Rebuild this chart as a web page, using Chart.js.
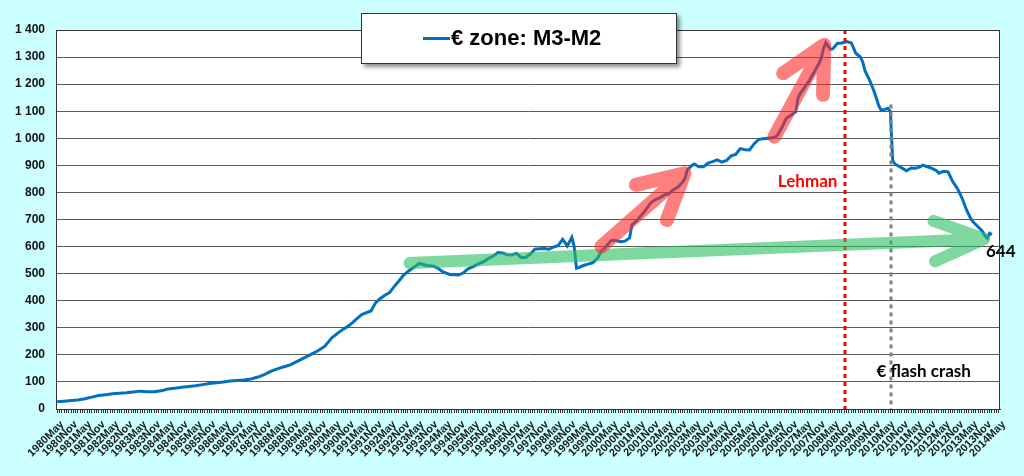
<!DOCTYPE html>
<html><head><meta charset="utf-8">
<script src="https://cdn.jsdelivr.net/npm/chart.js@4.4.1/dist/chart.umd.min.js"></script>
<style>html,body{margin:0;padding:0;background:#CCFFFF;overflow:hidden}canvas{display:block}</style>
</head><body>
<canvas id="c" width="1024" height="476"></canvas>
<script>
// Category tick labels (every 6 months)
const tickLabels = [
 "1980May","1980Nov","1981May","1981Nov","1982May","1982Nov","1983May","1983Nov","1984May","1984Nov",
 "1985May","1985Nov","1986May","1986Nov","1987May","1987Nov","1988May","1988Nov","1989May","1989Nov",
 "1990May","1990Nov","1991May","1991Nov","1992May","1992Nov","1993May","1993Nov","1994May","1994Nov",
 "1995May","1995Nov","1996May","1996Nov","1997May","1997Nov","1998May","1998Nov","1999May","1999Nov",
 "2000May","2000Nov","2001May","2001Nov","2002May","2002Nov","2003May","2003Nov","2004May","2004Nov",
 "2005May","2005Nov","2006May","2006Nov","2007May","2007Nov","2008May","2008Nov","2009May","2009Nov",
 "2010May","2010Nov","2011May","2011Nov","2012May","2012Nov","2013May","2013Nov","2014May"
];
const monthsPerTick = 6;
const monthCount = 409; // 1980May .. 2014May

// Month index (0 = 1980May) of each read value
const monthIndex = [
 0,3,6,9,12,15,18,21,24,27,30,33,36,39,42,45,48,51,54,57,60,63,66,69,72,75,78,81,84,87,
 90,93,96,99,101,104,107,110,113,116,119,122,124,126,128,130,132,134,136,138,140,142,144,146,148,150,152,154,156,
 157,160,163,165,167,170,172,174,176,178,180,183,185,187,189,191,193,195,197,199,201,203,205,207,209,211,213,215,217,219,220,221,223,224,
 225,226,228,230,232,234,236,238,240,242,244,246,248,249,251,253,255,257,259,261,263,265,267,269,271,272,273,275,276,278,280,282,284,286,288,290,
 292,294,296,298,300,302,304,306,308,310,312,314,316,318,320,321,322,324,326,328,330,331,332,333,335,336,338,340,342,344,345,346,348,349,350,352,354,356,357,358,360,361,
 362,363,365,367,368,370,372,374,375,377,379,381,382,384,386,388,390,392,394,396,397,399,401,402,403,404,405
];
// € zone M3-M2 values (bn €)
const m3m2 = [
 27,29,31,33,38,44,50,53,56,58,60,63,66,64,64,67,74,77,80,83,86,90,94,97,100,103,105,107,111,118,
 128,141,150,158,163,176,189,202,215,232,263,283,295,306,319,335,349,356,362,393,408,420,430,452,472,494,508,520,532,
 538,530,528,520,507,497,496,495,503,518,525,538,545,557,565,578,576,570,569,575,560,560,572,590,592,593,590,598,603,627,615,602,634,600,
 520,522,530,535,540,556,585,602,622,622,618,620,632,680,695,715,735,760,773,780,790,795,810,820,838,850,883,900,905,895,895,908,914,920,912,918,
 935,940,962,958,957,980,996,998,1000,1002,1010,1040,1075,1085,1098,1150,1166,1190,1215,1245,1275,1295,1330,1353,1329,1330,1350,1352,1357,1353,1335,1314,1300,1283,1250,1215,1172,1120,1104,1105,1111,1098,
 918,905,895,885,880,890,889,895,901,895,889,880,871,878,876,840,815,780,735,700,690,673,655,640,631,649,644
];
const seriesName = "€ zone: M3-M2";
// Annotation events (month index / value)
const lehmanMonth = 341.5, lehmanLabel = "Lehman";
const flashMonth = 361.1, flashTopValue = 1125, flashLabel = "€ flash crash";
const lastLabel = "644";
const greenArrow = [152.7, 539, 401.7, 628];
const redArrow1 = [235.8, 600, 271.8, 871];
const redArrow2 = [310.8, 1006, 332.4, 1345];

const points = monthIndex.map((m, i) => ({x: m, y: m3m2[i]}));

const fmt = v => String(v).replace(/\B(?=(\d{3})+(?!\d))/g, ' ');

const bgPlugin = {
  id: 'bg',
  beforeDraw(chart) {
    const {ctx, chartArea: a} = chart;
    ctx.save();
    ctx.fillStyle = '#FFFFFF';
    ctx.fillRect(a.left, a.top, a.right - a.left, a.bottom - a.top);
    ctx.restore();
  },
  afterDraw(chart) {
    const {ctx, chartArea: a} = chart;
    ctx.save();
    ctx.strokeStyle = '#333';
    ctx.lineWidth = 1;
    ctx.strokeRect(a.left + 0.5, a.top + 0.5, a.right - a.left - 1, a.bottom - a.top);
    ctx.restore();
  }
};

function drawArrow(ctx, x0, y0, x1, y1, color, w, headLen, headDeg) {
  const ang = Math.atan2(y0 - y1, x0 - x1);
  const h = headDeg * Math.PI / 180;
  ctx.save();
  ctx.strokeStyle = color;
  ctx.lineWidth = w;
  ctx.lineCap = 'round';
  ctx.lineJoin = 'round';
  ctx.beginPath();
  ctx.moveTo(x0, y0); ctx.lineTo(x1, y1);
  ctx.moveTo(x1 + headLen * Math.cos(ang + h), y1 + headLen * Math.sin(ang + h));
  ctx.lineTo(x1, y1);
  ctx.lineTo(x1 + headLen * Math.cos(ang - h), y1 + headLen * Math.sin(ang - h));
  ctx.stroke();
  ctx.restore();
}

const annoPlugin = {
  id: 'anno',
  afterDatasetsDraw(chart) {
    const {ctx, chartArea: a, scales: {x, y}} = chart;
    const px = v => x.getPixelForValue(v), py = v => y.getPixelForValue(v);
    // dotted lines
    ctx.save();
    ctx.setLineDash([4, 4]);
    ctx.lineWidth = 3;
    ctx.strokeStyle = '#FF0000';
    ctx.beginPath(); ctx.moveTo(Math.round(px(lehmanMonth)), a.top); ctx.lineTo(Math.round(px(lehmanMonth)), a.bottom); ctx.stroke();
    ctx.strokeStyle = '#808080';
    ctx.beginPath(); ctx.moveTo(Math.round(px(flashMonth)), py(flashTopValue)); ctx.lineTo(Math.round(px(flashMonth)), a.bottom); ctx.stroke();
    ctx.restore();
    // arrows
    drawArrow(ctx, px(greenArrow[0]), py(greenArrow[1]), px(greenArrow[2]), py(greenArrow[3]), 'rgba(42,190,97,0.6)', 12, 54, 22);
    drawArrow(ctx, px(redArrow1[0]), py(redArrow1[1]), px(redArrow1[2]), py(redArrow1[3]), 'rgba(255,42,42,0.6)', 14, 50, 28);
    drawArrow(ctx, px(redArrow2[0]), py(redArrow2[1]), px(redArrow2[2]), py(redArrow2[3]), 'rgba(255,42,42,0.6)', 14, 50, 27);
    // texts
    ctx.save();
    ctx.font = 'bold 17px Lato, "Open Sans", sans-serif';
    ctx.textBaseline = 'middle';
    ctx.fillStyle = '#FF0000';
    ctx.textAlign = 'right';
    ctx.fillText(lehmanLabel, px(lehmanMonth) - 8, py(842));
    ctx.fillStyle = '#000';
    ctx.textAlign = 'left';
    ctx.fillText(flashLabel, px(flashMonth) - 14, py(137));
    const li = monthIndex.length - 1;
    ctx.fillText(lastLabel, px(monthIndex[li]) - 6, py(m3m2[li]) + 17);
    ctx.restore();
  },
  afterDraw(chart) {
    const ctx = chart.ctx;
    ctx.save();
    ctx.shadowColor = 'rgba(0,0,0,0.45)';
    ctx.shadowOffsetX = 3; ctx.shadowOffsetY = 3; ctx.shadowBlur = 4;
    ctx.fillStyle = '#FFFFFF';
    ctx.fillRect(361, 13, 316, 51);
    ctx.shadowColor = 'transparent';
    ctx.strokeStyle = '#333'; ctx.lineWidth = 1;
    ctx.strokeRect(361.5, 13.5, 315, 50);
    ctx.strokeStyle = '#0070C0'; ctx.lineWidth = 3;
    ctx.beginPath(); ctx.moveTo(423, 38.5); ctx.lineTo(450, 38.5); ctx.stroke();
    ctx.fillStyle = '#000';
    ctx.font = 'bold 22px "Liberation Sans", Arial, sans-serif';
    ctx.textBaseline = 'middle'; ctx.textAlign = 'left';
    ctx.fillText(seriesName, 451, 39);
    ctx.restore();
  }
};

new Chart(document.getElementById('c'), {
  type: 'line',
  data: { datasets: [{ label: seriesName, data: points, borderColor: '#0070C0', borderWidth: 3, pointRadius: 0, tension: 0, fill: false }] },
  options: {
    responsive: false, animation: false, devicePixelRatio: 1,
    layout: { padding: { top: 30, right: 24, left: 0, bottom: 0 } },
    plugins: { legend: { display: false }, tooltip: { enabled: false } },
    scales: {
      x: {
        type: 'linear', min: -0.5, max: monthCount - 0.5,
        afterBuildTicks: s => { s.ticks = Array.from({length: monthCount}, (_, i) => ({value: i})); },
        afterFit: s => { s.height = 67; },
        grid: { drawOnChartArea: false, tickLength: 4, color: '#333', lineWidth: 1 },
        border: { color: '#222', width: 1 },
        ticks: {
          autoSkip: false, minRotation: 45, maxRotation: 45, padding: 5, labelOffset: 5,
          color: '#1a1a1a',
          font: { family: '"Liberation Sans", Arial, sans-serif', size: 11, weight: 'bold' },
          callback: v => (v % monthsPerTick === 0 ? tickLabels[v / monthsPerTick] : '')
        }
      },
      y: {
        min: 0, max: 1400,
        afterFit: s => { s.width = 56; },
        grid: { color: '#5a5a5a', drawTicks: false, lineWidth: 1 },
        border: { color: '#555' },
        ticks: {
          stepSize: 100, padding: 11, color: '#111',
          font: { family: '"Liberation Sans", Arial, sans-serif', size: 12, weight: 'bold' },
          callback: v => fmt(v)
        }
      }
    }
  },
  plugins: [bgPlugin, annoPlugin]
});
</script>
</body></html>
